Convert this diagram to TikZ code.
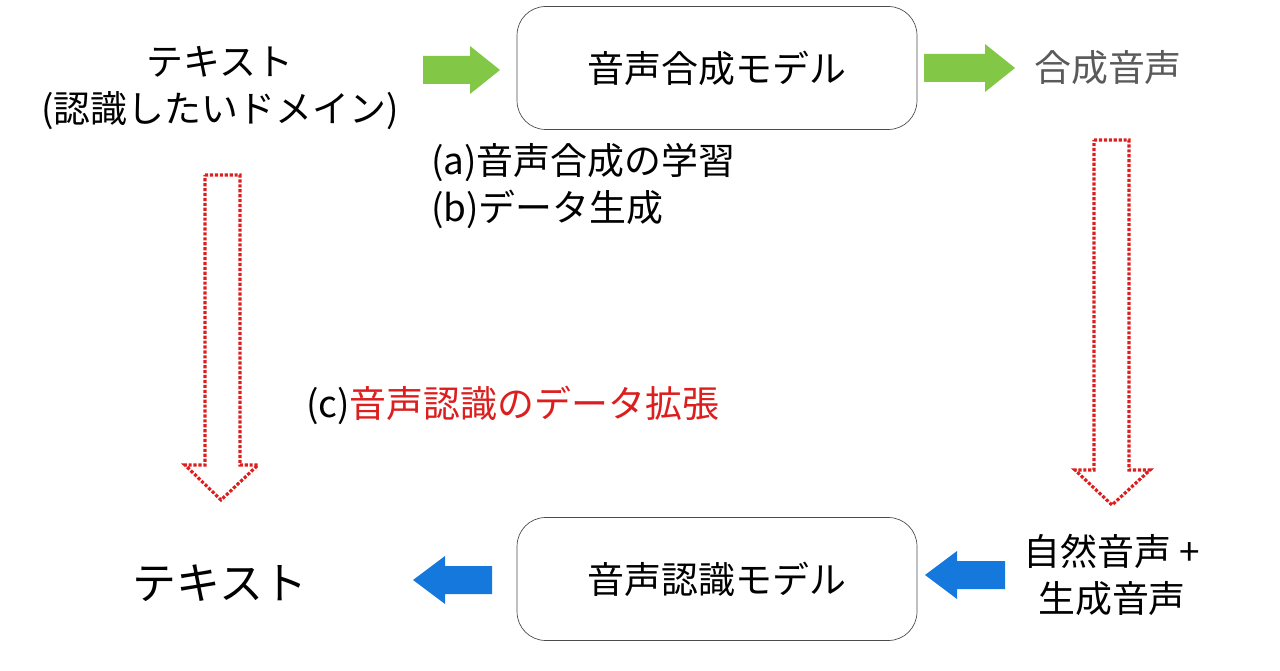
\documentclass[tikz,border=0pt]{standalone}
\usepackage{fontspec}
\setmainfont{Noto Sans CJK JP}
\usetikzlibrary{positioning}
\definecolor{gruen}{RGB}{130,200,70}
\definecolor{blau}{RGB}{20,120,220}
\definecolor{rot}{RGB}{220,30,30}
\definecolor{grau}{RGB}{90,90,90}
\tikzset{
    modell/.style={draw=black!70, rounded corners=3ex, minimum width=8cm, minimum height=2.46cm, font=\fontsize{21}{25}\selectfont},
    txt/.style={font=\fontsize{21}{27}\selectfont, align=center},
    hohl/.style={draw=rot, densely dotted, line width=1.8pt},
}
\begin{document}
\begin{tikzpicture}[x=0.02cm, y=-0.02cm]
    \useasboundingbox (0,0) rectangle (1280,671);

    \node[modell] (tts) at (717,68) {音声合成モデル};
    \node[modell] (asr) at (717,579) {音声認識モデル};

    \node[txt] (texta) at (220,88) {テキスト\\(認識したいドメイン)};
    \node[txt, text=grau] (synth) at (1108,68) {合成音声};
    \node[txt, font=\fontsize{25}{30}\selectfont] (textb) at (220,583) {テキスト};
    \node[txt] (mix) at (1112,575) {自然音声 +\\生成音声};

    \node[txt, anchor=west, align=left] (ab) at (425,186) {(a)音声合成の学習\\(b)データ生成};
    \node[txt, anchor=west] (c) at (300,405) {(c)\textcolor{rot}{音声認識のデータ拡張}};

    % gruene und blaue Pfeile
    \fill[gruen] (423,56) -- (470,56) -- (470,46) -- (500,70) -- (470,94) -- (470,84) -- (423,84) -- cycle;
    \fill[gruen] (924,54) -- (985,54) -- (985,44) -- (1015,68) -- (985,92) -- (985,82) -- (924,82) -- cycle;
    \fill[blau] (492,566) -- (445,566) -- (445,556) -- (413,580) -- (445,604) -- (445,594) -- (492,594) -- cycle;
    \fill[blau] (1005,561) -- (957,561) -- (957,551) -- (925,575) -- (957,599) -- (957,589) -- (1005,589) -- cycle;

    % rote Hohlpfeile
    \draw[hohl] (205,175) -- (240,175) -- (240,465) -- (258,465) -- (221,500) -- (185,465) -- (205,465) -- cycle;
    \draw[hohl] (1094,140) -- (1129,140) -- (1129,470) -- (1150,470) -- (1112,505) -- (1075,470) -- (1094,470) -- cycle;

\end{tikzpicture}
\end{document}
